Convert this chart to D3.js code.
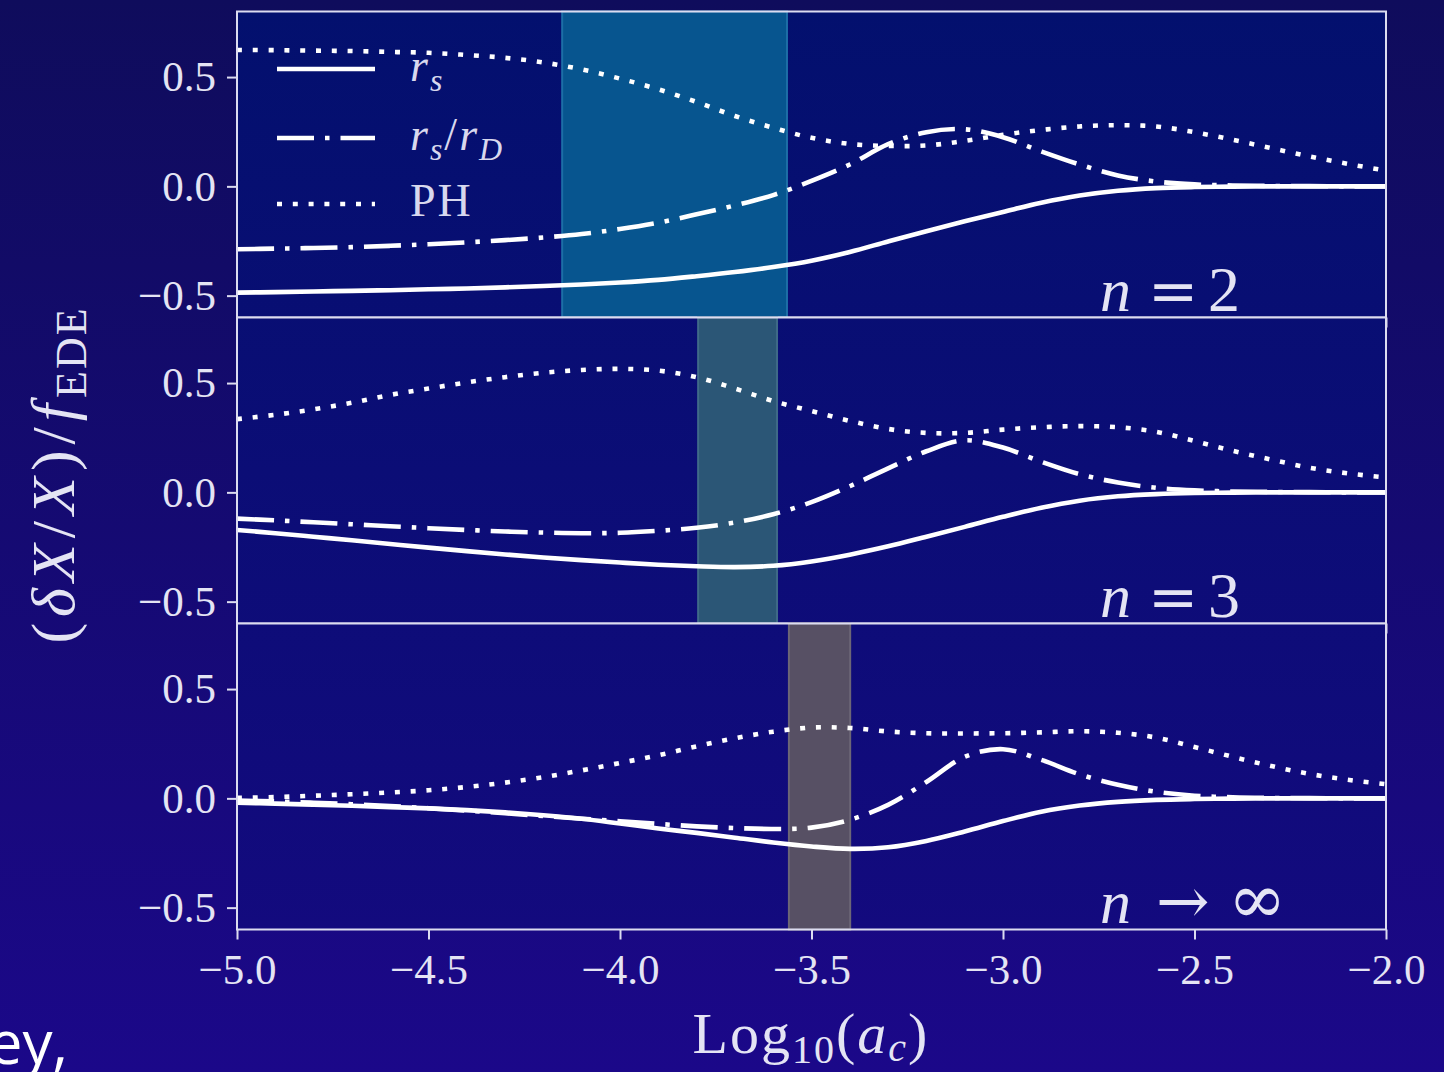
<!DOCTYPE html>
<html>
<head>
<meta charset="utf-8">
<script src="https://cdn.jsdelivr.net/npm/d3@7"></script>
<style>
  html, body { margin: 0; padding: 0; background: #140a72; }
  svg { display: block; }
</style>
</head>
<body>
<svg id="chart" width="1444" height="1072"></svg>
<script>
// log10(a_c) sampling grid shared by every curve
const logAc = [-5.0, -4.9, -4.8, -4.7, -4.6, -4.5, -4.4, -4.3, -4.2, -4.1, -4.0,
               -3.9, -3.8, -3.7, -3.6, -3.5, -3.4, -3.3, -3.2, -3.1, -3.0,
               -2.9, -2.8, -2.7, -2.6, -2.5, -2.4, -2.3, -2.2, -2.1, -2.0];

// n = 2
const rsN2 = [-0.486, -0.484, -0.481, -0.478, -0.475, -0.471, -0.467, -0.462, -0.456, -0.449, -0.440,
              -0.428, -0.411, -0.392, -0.369, -0.340, -0.300, -0.252, -0.205, -0.160, -0.117,
              -0.075, -0.042, -0.020, -0.008, -0.003, -0.001, 0.000, 0.000, 0.000, 0.000];
const rsrdN2 = [-0.288, -0.285, -0.282, -0.278, -0.272, -0.265, -0.256, -0.246, -0.234, -0.218, -0.195,
                -0.166, -0.128, -0.087, -0.040, 0.025, 0.100, 0.193, 0.248, 0.261, 0.225,
                0.160, 0.100, 0.050, 0.022, 0.009, 0.004, 0.002, 0.001, 0.000, 0.000];
const phN2 = [0.624, 0.623, 0.621, 0.619, 0.615, 0.611, 0.601, 0.588, 0.567, 0.535, 0.493,
              0.444, 0.386, 0.322, 0.268, 0.222, 0.194, 0.185, 0.187, 0.208, 0.236,
              0.258, 0.274, 0.280, 0.274, 0.248, 0.213, 0.175, 0.137, 0.103, 0.072];

// n = 3
const rsN3 = [-0.172, -0.187, -0.203, -0.219, -0.236, -0.253, -0.269, -0.284, -0.298, -0.310, -0.321,
              -0.331, -0.338, -0.342, -0.336, -0.316, -0.285, -0.247, -0.203, -0.158, -0.112,
              -0.070, -0.038, -0.018, -0.008, -0.003, -0.001, 0.000, 0.000, 0.000, 0.000];
const rsrdN3 = [-0.120, -0.128, -0.137, -0.146, -0.155, -0.164, -0.172, -0.179, -0.184, -0.187, -0.185,
                -0.176, -0.162, -0.138, -0.100, -0.045, 0.028, 0.110, 0.188, 0.238, 0.205,
                0.140, 0.083, 0.045, 0.021, 0.009, 0.004, 0.002, 0.001, 0.000, 0.000];
const phN3 = [0.335, 0.355, 0.380, 0.410, 0.446, 0.475, 0.503, 0.527, 0.547, 0.560, 0.565,
              0.557, 0.527, 0.475, 0.418, 0.372, 0.327, 0.290, 0.272, 0.272, 0.287,
              0.298, 0.303, 0.298, 0.277, 0.235, 0.190, 0.150, 0.113, 0.087, 0.068];

// n -> infinity
const rsNinf = [-0.020, -0.024, -0.029, -0.034, -0.040, -0.046, -0.054, -0.064, -0.077, -0.093, -0.115,
                -0.138, -0.158, -0.180, -0.202, -0.220, -0.231, -0.224, -0.195, -0.152, -0.104,
                -0.061, -0.033, -0.016, -0.007, -0.003, -0.001, 0.000, 0.000, 0.000, 0.000];
const rsrdNinf = [-0.010, -0.014, -0.020, -0.027, -0.035, -0.045, -0.056, -0.068, -0.081, -0.093, -0.105,
                  -0.117, -0.128, -0.136, -0.140, -0.134, -0.098, -0.030, 0.075, 0.190, 0.225,
                  0.176, 0.110, 0.062, 0.030, 0.012, 0.005, 0.002, 0.001, 0.000, 0.000];
const phNinf = [0.002, 0.006, 0.012, 0.019, 0.027, 0.037, 0.052, 0.072, 0.097, 0.128, 0.162,
                0.197, 0.238, 0.275, 0.305, 0.324, 0.322, 0.306, 0.298, 0.297, 0.298,
                0.302, 0.307, 0.300, 0.278, 0.235, 0.190, 0.148, 0.112, 0.085, 0.065];

// preferred a_c range shown as a shaded band in each panel
const bandN2 = [-4.151, -3.564];
const bandN3 = [-3.796, -3.590];
const bandNinf = [-3.559, -3.399];

const xTicks = [-5.0, -4.5, -4.0, -3.5, -3.0, -2.5, -2.0];
const yTicks = [-0.5, 0.0, 0.5];
const panelNames = ["n2", "n3", "ninf"];

// ---------------------------------------------------------------
const svg = d3.select("#chart");
const W = 1444, H = 1072;
const serif = "'Liberation Serif', 'DejaVu Serif', serif";
const mathSym = "'DejaVu Serif', serif";
const ink = "#e4e4f4";

const defs = svg.append("defs");
const bg = defs.append("linearGradient").attr("id", "bgGrad")
  .attr("x1", 0).attr("y1", 0).attr("x2", 0).attr("y2", 1);
bg.append("stop").attr("offset", "0%").attr("stop-color", "#0f0c5c");
bg.append("stop").attr("offset", "100%").attr("stop-color", "#1b0889");

const axBg = defs.append("linearGradient").attr("id", "axGrad")
  .attr("gradientUnits", "userSpaceOnUse")
  .attr("x1", 0).attr("y1", 12).attr("x2", 0).attr("y2", 930);
axBg.append("stop").attr("offset", "0%").attr("stop-color", "#03106e");
axBg.append("stop").attr("offset", "100%").attr("stop-color", "#130a7e");

svg.append("rect").attr("width", W).attr("height", H).attr("fill", "url(#bgGrad)");

const left = 237, right = 1386;
const panelH = 306;
const panelTops = [11.5, 317.5, 623.5];

const x = d3.scaleLinear().domain([-5, -2]).range([left, right]);

// label pieces: [text, x, fontFamily, fontStyle, fontSize]
const panels = [
  { name: panelNames[0], rs: rsN2, rsrd: rsrdN2, ph: phN2, band: bandN2,
    bandFill: "#07558f", bandEdge: "#1d6ea6",
    label: [["n", 1100, serif, "italic", 62], ["=", 1148, mathSym, "normal", 60], ["2", 1208, serif, "normal", 64]] },
  { name: panelNames[1], rs: rsN3, rsrd: rsrdN3, ph: phN3, band: bandN3,
    bandFill: "#2b5676", bandEdge: "#3f6a88",
    label: [["n", 1100, serif, "italic", 62], ["=", 1148, mathSym, "normal", 60], ["3", 1208, serif, "normal", 64]] },
  { name: panelNames[2], rs: rsNinf, rsrd: rsrdNinf, ph: phNinf, band: bandNinf,
    bandFill: "#575064", bandEdge: "#6c6676",
    label: [["n", 1100, serif, "italic", 62], ["\u2192", 1156, mathSym, "normal", 64], ["\u221E", 1228, mathSym, "normal", 70]] }
];

const styles = {
  rs:   { dash: null },
  rsrd: { dash: "37 11 4.5 11" },
  ph:   { dash: "5 10.8" }
};

const fmt = d3.format(".1f");

panels.forEach((p, i) => {
  const top = panelTops[i];
  const y = d3.scaleLinear().domain([-0.6, 0.8]).range([top + panelH, top]);
  const g = svg.append("g").attr("class", "panel-" + p.name);

  defs.append("clipPath").attr("id", "clip-" + p.name)
    .append("rect").attr("x", left).attr("y", top)
    .attr("width", right - left).attr("height", panelH);

  g.append("rect").attr("x", left).attr("y", top)
    .attr("width", right - left).attr("height", panelH)
    .attr("fill", "url(#axGrad)");

  // shaded a_c band
  g.append("rect")
    .attr("x", x(p.band[0])).attr("y", top)
    .attr("width", x(p.band[1]) - x(p.band[0])).attr("height", panelH)
    .attr("fill", p.bandFill)
    .attr("stroke", p.bandEdge).attr("stroke-width", 2);

  const line = d3.line()
    .x((d, k) => x(logAc[k]))
    .y(d => y(d))
    .curve(d3.curveCatmullRom.alpha(0.5));

  const curves = g.append("g").attr("clip-path", "url(#clip-" + p.name + ")");
  ["rs", "rsrd", "ph"].forEach(key => {
    curves.append("path")
      .datum(p[key])
      .attr("d", line)
      .attr("fill", "none")
      .attr("stroke", "#ffffff")
      .attr("stroke-width", 4.6)
      .attr("stroke-linecap", "butt")
      .attr("stroke-dasharray", styles[key].dash);
  });

  // axes
  const yAxis = d3.axisLeft(y).tickValues(yTicks).tickSize(10).tickPadding(11).tickFormat(fmt);
  const ya = g.append("g").attr("transform", `translate(${left},0)`).call(yAxis);
  const xAxis = d3.axisBottom(x).tickValues(xTicks).tickSize(10).tickPadding(14)
    .tickFormat(i === 2 ? fmt : () => "");
  const xa = g.append("g").attr("transform", `translate(0,${top + panelH})`).call(xAxis);
  [ya, xa].forEach(a => {
    a.select(".domain").remove();
    a.selectAll(".tick line").attr("stroke", "#dcdcf0").attr("stroke-width", 2);
    a.selectAll(".tick text").attr("fill", ink).attr("font-family", serif).attr("font-size", 43);
  });

  // frame
  g.append("rect").attr("x", left).attr("y", top)
    .attr("width", right - left).attr("height", panelH)
    .attr("fill", "none").attr("stroke", "#dcdcf0").attr("stroke-width", 2);

  // panel label
  const t = g.append("text").attr("y", top + panelH - 7).attr("fill", ink);
  p.label.forEach(([s, lx, fam, st, fs]) => {
    t.append("tspan").attr("x", lx).attr("font-family", fam)
      .attr("font-style", st).attr("font-size", fs).text(s);
  });
});

// legend
const legendItems = [
  { key: "rs", y: 69, parts: [["r", "italic", 0], ["s", "italic", 1]] },
  { key: "rsrd", y: 138, parts: [["r", "italic", 0], ["s", "italic", 1], ["/", "normal", 0], ["r", "italic", 0], ["D", "italic", 1]] },
  { key: "ph", y: 204, parts: [["PH", "normal", 0]] }
];
const lg = svg.append("g").attr("class", "legend");
legendItems.forEach(it => {
  lg.append("line").attr("x1", 277).attr("x2", 375).attr("y1", it.y).attr("y2", it.y)
    .attr("stroke", "#ffffff").attr("stroke-width", 4.6)
    .attr("stroke-dasharray", styles[it.key].dash);
  const t = lg.append("text").attr("x", 410).attr("y", it.y + 12)
    .attr("font-family", serif).attr("font-size", 46).attr("fill", "#d8d8ee")
    .attr("letter-spacing", 2);
  let sub = false;
  it.parts.forEach(([s, st, isSub]) => {
    const ts = t.append("tspan").attr("font-style", st).text(s);
    if (isSub && !sub) { ts.attr("dy", 10).attr("font-size", 32); sub = true; }
    else if (!isSub && sub) { ts.attr("dy", -10); sub = false; }
  });
});

// y-axis title
const yt = svg.append("text")
  .attr("transform", "translate(74,475) rotate(-90)")
  .attr("text-anchor", "middle")
  .attr("font-family", serif).attr("font-size", 62).attr("fill", ink)
  .attr("letter-spacing", 6);
yt.append("tspan").text("(");
yt.append("tspan").attr("font-style", "italic").text("\u03B4X");
yt.append("tspan").text("/");
yt.append("tspan").attr("font-style", "italic").text("X");
yt.append("tspan").text(")/");
yt.append("tspan").attr("font-style", "italic").text("f");
yt.append("tspan").attr("dy", 12).attr("font-size", 44).attr("letter-spacing", 2).text("EDE");

// x-axis title
const xt = svg.append("text")
  .attr("x", 811).attr("y", 1053)
  .attr("text-anchor", "middle")
  .attr("font-family", serif).attr("font-size", 58).attr("fill", ink)
  .attr("letter-spacing", 2);
xt.append("tspan").text("Log");
xt.append("tspan").attr("dy", 10).attr("font-size", 40).text("10");
xt.append("tspan").attr("dy", -10).text("(");
xt.append("tspan").attr("font-style", "italic").text("a");
xt.append("tspan").attr("dy", 8).attr("font-size", 40).attr("font-style", "italic").text("c");
xt.append("tspan").attr("dy", -8).text(")");

// fragment of slide text at bottom-left
svg.append("text").attr("x", 68).attr("y", 1064).attr("text-anchor", "end")
  .attr("font-family", "'Open Sans', sans-serif").attr("font-size", 60)
  .attr("fill", "#ffffff").text("ey,");
</script>
</body>
</html>
